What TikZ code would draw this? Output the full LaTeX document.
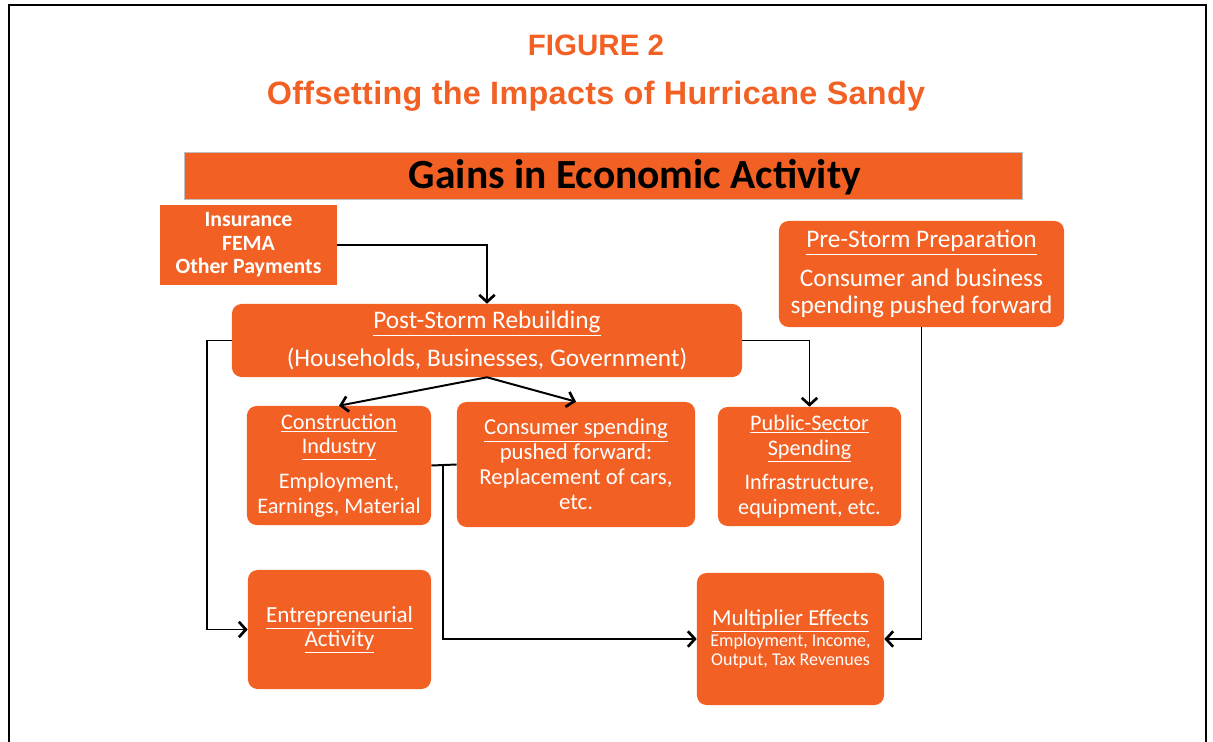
\documentclass[tikz,border=0pt]{standalone}
\usepackage{fontspec}
\setmainfont{Carlito}
\newfontfamily\headfont{Liberation Sans}
\usetikzlibrary{arrows.meta,positioning,calc}
\definecolor{sandy}{HTML}{F26024}

\tikzset{
  panel/.style={fill=sandy, text=white, align=center, inner sep=0pt, rounded corners=0.24cm},
  flatpanel/.style={fill=sandy, inner sep=0pt},
  flow/.style={line width=1.4pt, -{Straight Barb[length=5pt,width=11pt,line width=1.9pt]}},
  link/.style={line width=1.4pt}
}

\begin{document}
\begin{tikzpicture}[x=0.025cm, y=-0.025cm]
  % page and frame
  \useasboundingbox (0,0) rectangle (1213,742);
  \draw[line width=2.1pt] (9,742) -- (9,5) -- (1206,5) -- (1206,742);

  % titles
  \node[anchor=base, text=sandy, font=\headfont\bfseries\fontsize{21}{25}\selectfont] (fig) at (596,56) {FIGURE 2};
  \node[anchor=base, text=sandy, font=\headfont\bfseries\fontsize{23}{27}\selectfont\addfontfeature{LetterSpace=1}] (title) at (596,105)
       {Offsetting the Impacts of Hurricane Sandy};

  % banner
  \node[flatpanel, draw=black!25, line width=0.6pt, minimum width=20.925cm, minimum height=1.175cm] (gains) at (603.5,175.5) {};
  \node[font=\bfseries\fontsize{29.5}{32}\selectfont] (gainstext) at (635,177) {Gains in Economic Activity};

  % boxes
  \node[flatpanel, text=white, align=center, minimum width=4.425cm, minimum height=2cm,
        font=\bfseries\fontsize{15.5}{16.7}\selectfont] (ins) at (248.5,245) {Insurance\\FEMA\\Other Payments};
  \node[panel, minimum width=12.75cm, minimum height=1.825cm, font=\fontsize{18}{20}\selectfont] (post) at (487,340.5)
       {\underline{Post-Storm Rebuilding}\\[7pt](Households, Businesses, Government)};
  \node[panel, minimum width=7.125cm, minimum height=2.65cm, font=\fontsize{18}{19}\selectfont] (pre) at (921.5,274)
       {\underline{Pre-Storm Preparation}\\[8.5pt]Consumer and business\\spending pushed forward};
  \node[panel, minimum width=4.6cm, minimum height=2.975cm, font=\fontsize{15.8}{17.5}\selectfont] (constr) at (339,465.5)
       {\underline{Construction}\\\underline{Industry}\\[7.5pt]Employment,\\Earnings, Material};
  \node[panel, minimum width=5.95cm, minimum height=3.125cm, font=\fontsize{16.2}{17.7}\selectfont] (cons) at (576,464.5)
       {\underline{Consumer spending}\\pushed forward:\\Replacement of cars,\\etc.};
  \node[panel, minimum width=4.575cm, minimum height=2.975cm, font=\fontsize{15.8}{17.7}\selectfont] (public) at (809.5,466.5)
       {\underline{Public-Sector}\\\underline{Spending}\\[7pt]Infrastructure,\\equipment, etc.};
  \node[panel, minimum width=4.575cm, minimum height=2.975cm, font=\fontsize{16.4}{17}\selectfont] (entre) at (339.5,629.5)
       {\underline{Entrepreneurial}\\\underline{Activity}};
  \node[panel, minimum width=4.675cm, minimum height=3.3cm, font=\fontsize{12.8}{13.5}\selectfont] (mult) at (790.5,639)
       {{\fontsize{16.2}{15}\selectfont\underline{Multiplier Effects}}\\[1pt]Employment, Income,\\Output, Tax Revenues};

  % connectors
  \draw[flow] (ins.east) -| (post.north);
  \draw[flow] (post.west) -- ++(-25,0) |- (entre.west);
  \draw[flow] (post.south) -- (constr.north);
  \draw[flow] (post.south) -- (cons.north);
  \draw[flow] (post.east) -| (public.north);
  \draw[link] (constr.east) -- (cons.west);
  \coordinate (join) at ($(constr.east)!0.45!(cons.west)$);
  \draw[flow] (join) |- (mult.west);
  \draw[flow] (pre.south) |- (mult.east);
\end{tikzpicture}
\end{document}
